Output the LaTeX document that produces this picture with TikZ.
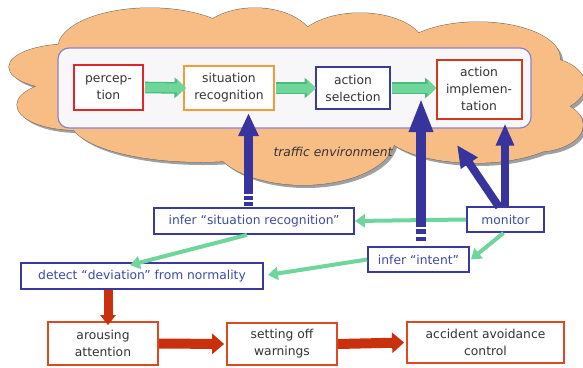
\documentclass[tikz,border=0pt]{standalone}
\usepackage{fontspec}
\setmainfont{DejaVu Sans}
\usetikzlibrary{arrows.meta,calc}
\definecolor{cloudfill}{HTML}{F8BD85}
\definecolor{cloudline}{HTML}{6E6A66}
\definecolor{cloudshadow}{HTML}{A0A0A0}
\definecolor{envfill}{HTML}{F7F7FA}
\definecolor{envline}{HTML}{8C80CC}
\definecolor{boxred}{HTML}{E0262A}
\definecolor{boxorange}{HTML}{F39A3A}
\definecolor{boxblue}{HTML}{3A3A9E}
\definecolor{implred}{HTML}{D2381E}
\definecolor{lowred}{HTML}{DC4A22}
\definecolor{txtblue}{HTML}{3C4CA6}
\definecolor{txtdark}{HTML}{333333}
\definecolor{arrgreen}{HTML}{6ED69A}
\definecolor{arrgreendark}{HTML}{4DB97C}
\definecolor{arrblue}{HTML}{38349E}
\definecolor{arrred}{HTML}{C8300E}
\tikzset{
  topbox/.style={draw, line width=2pt, fill=white, text=txtdark},
  bluebox/.style={draw=boxblue, line width=1.8pt, fill=white, text=txtblue},
  redbox/.style={draw=lowred, line width=1.8pt, fill=white, text=txtdark},
  fatgreenedge/.style={draw=arrgreendark, line width=11.6pt, -{Triangle[width=20pt,length=11.5pt]}},
  fatgreen/.style={draw=arrgreen, line width=9pt, -{Triangle[width=16.5pt,length=9pt]}},
  thingreen/.style={draw=arrgreen, line width=4pt, -{Triangle[width=13pt,length=10pt]}},
  bluearr/.style={draw=arrblue, line width=9pt, -{Triangle[width=19pt,length=23pt]}},
  bluearrlong/.style={draw=arrblue, line width=10pt, -{Triangle[width=22pt,length=34pt]}},
  redarr/.style={draw=arrred, line width=10pt, -{Triangle[width=20pt,length=12pt]}},
  redarrdown/.style={draw=arrred, line width=9pt, -{Triangle[width=15pt,length=10pt]}},
}
\newcommand{\cloudshape}{%
  (70,67) ellipse [x radius=61pt, y radius=23pt]
  (75,105) ellipse [x radius=58pt, y radius=25pt]
  (150,48) ellipse [x radius=92pt, y radius=40pt]
  (255,45) ellipse [x radius=60pt, y radius=37pt]
  (360,48) ellipse [x radius=65pt, y radius=35pt]
  (478,58) ellipse [x radius=82pt, y radius=36pt]
  (540,85) ellipse [x radius=45pt, y radius=28pt]
  (535,125) ellipse [x radius=48pt, y radius=27pt]
  (200,120) ellipse [x radius=130pt, y radius=42pt]
  (303,138) ellipse [x radius=92pt, y radius=47pt]
  (475,125) ellipse [x radius=95pt, y radius=38pt]
}
\begin{document}
\begin{tikzpicture}[x=1pt,y=-1pt,
  every node/.style={font=\fontsize{12.3}{17}\selectfont, inner sep=0pt, align=center}]
\useasboundingbox (0,0) rectangle (583,367);
\fill[white] (0,0) rectangle (583,367);
% cloud
\begin{scope}[shift={(3,3)}]
  \fill[cloudshadow] \cloudshape;
  \fill[cloudshadow] (90,45) rectangle (530,135);
\end{scope}
\draw[cloudline, line width=1pt, fill=cloudfill] \cloudshape;
\fill[cloudfill] \cloudshape;
\fill[cloudfill] (90,45) rectangle (530,135);
% environment panel
\node[draw=envline, line width=1.2pt, fill=envfill, rounded corners=11pt,
  minimum width=473pt, minimum height=80pt] (env) at (294.5,88) {};
\node[text=txtdark, font=\fontsize{12.3}{17}\selectfont\itshape] (traffic) at (333,152) {traffic environment};
% top boxes
\node[topbox, draw=boxred, minimum width=69pt, minimum height=45pt] (perc) at (108.5,87.5) {percep-\\tion};
\node[topbox, draw=boxorange, minimum width=90pt, minimum height=44pt] (sitrec) at (229,88) {situation\\recognition};
\node[topbox, draw=boxblue, minimum width=74pt, minimum height=42pt] (actsel) at (353,88) {action\\selection};
\node[topbox, draw=implred, minimum width=85pt, minimum height=59pt] (impl) at (479,89) {action\\implemen-\\tation};
% lower boxes
\node[bluebox, minimum width=200pt, minimum height=26pt] (isr) at (254,221) {infer “situation recognition”};
\node[bluebox, minimum width=77pt, minimum height=25pt] (monitor) at (505.5,219.5) {monitor};
\node[bluebox, minimum width=101pt, minimum height=25pt] (intent) at (418.5,259.5) {infer “intent”};
\node[bluebox, minimum width=242pt, minimum height=26pt] (detect) at (142,276) {detect “deviation” from normality};
\node[redbox, minimum width=110pt, minimum height=43pt] (arousing) at (103,343.5) {arousing\\attention};
\node[redbox, minimum width=110pt, minimum height=42pt] (setting) at (282,344) {setting off\\warnings};
\node[redbox, minimum width=157pt, minimum height=41pt] (accident) at (485.5,342.5) {accident avoidance\\control};
% helper coordinates
\coordinate (srx) at (248.5,0);
\coordinate (inx) at (421,0);
\coordinate (gaptip) at (421,98);
\coordinate (diagtip) at (457,145);
\coordinate (diagstart) at (499,207);
\coordinate (impx) at (505,0);
\coordinate (isrout) at (247,0);
\coordinate (detin) at (130,0);
\coordinate (rdx) at (108,0);
% green arrows (top)
\foreach \s in {fatgreenedge, fatgreen}{
  \draw[\s] ([xshift=1pt]perc.east) -- ([xshift=3pt]sitrec.west);
  \draw[\s] ([xshift=1pt]sitrec.east) -- ([xshift=1pt]actsel.west);
  \draw[\s] ([xshift=1pt]actsel.east) -- ([xshift=1pt]impl.west |- actsel.east);
}
% green arrows (bottom)
\draw[thingreen] (monitor.west) -- (isr.east);
\draw[thingreen] (isr.south -| isrout) -- ([yshift=-3pt]detect.north -| detin);
\draw[thingreen] ([xshift=-2pt]monitor.south) -- ([xshift=1pt]intent.east);
\draw[thingreen] (intent.west) -- ([xshift=4pt,yshift=1pt]detect.east);
% blue arrows
\draw[bluearr, dash pattern=on 0pt off 1pt on 4pt off 2pt on 4pt off 2pt on 400pt off 0pt]
  (isr.north -| srx) -- ([yshift=-2pt]sitrec.south -| srx);
\draw[bluearrlong, dash pattern=on 0pt off 5pt on 4pt off 3pt on 5pt off 2pt on 400pt off 0pt]
  (intent.north -| inx) -- (gaptip);
\draw[bluearr, line width=8pt, -{Triangle[width=19pt,length=22pt]}] (diagstart) -- (diagtip);
\draw[bluearr, line width=8pt, -{Triangle[width=17pt,length=22pt]}] (monitor.north -| impx) -- ([yshift=-4pt]impl.south -| impx);
% red arrows
\draw[redarrdown] (detect.south -| rdx) -- ([yshift=-4pt]arousing.north -| rdx);
\draw[redarr] (arousing.east) -- ([xshift=-2pt]setting.west);
\draw[redarr] (setting.east) -- ([xshift=-2pt]accident.west);
\end{tikzpicture}
\end{document}
